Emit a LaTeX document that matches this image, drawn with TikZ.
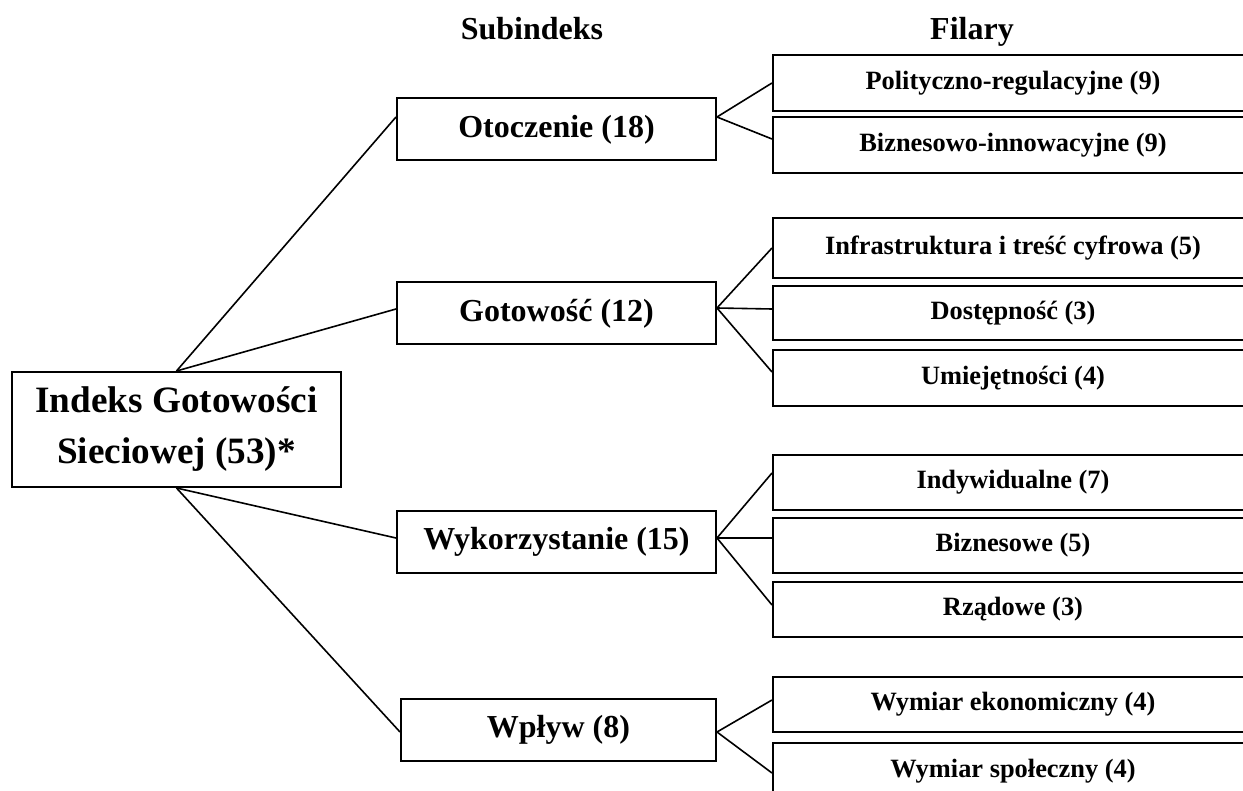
\documentclass[tikz,border=0pt]{standalone}
\usepackage{fontspec}
\setmainfont{Liberation Serif}
\usetikzlibrary{calc}
\begin{document}
\begin{tikzpicture}[x=0.5pt,y=-0.5pt,
  box/.style={draw,line width=1pt,inner sep=0pt,align=center,font=\bfseries},
  rootbox/.style={box,minimum width=164.5pt,minimum height=57.5pt,
    font=\bfseries\fontsize{18.6}{25.5}\selectfont},
  subbox/.style={box,minimum width=159.5pt,minimum height=31pt,
    font=\bfseries\fontsize{16}{19}\selectfont},
  pillar/.style={box,minimum width=240pt,minimum height=28pt,
    font=\bfseries\fontsize{13.2}{16}\selectfont},
  head/.style={anchor=base,font=\bfseries\fontsize{16}{19}\selectfont},
  link/.style={line width=0.8pt}]
\useasboundingbox (0,0) rectangle (1243,791);
\clip (0,0) rectangle (1243,791);

% column headings
\node[head] (hsub) at (532,40) {Subindeks};
\node[head] (hpil) at (972,40) {Filary};

% index
\node[rootbox] (root) at (176.5,429.5) {Indeks Gotowości\\Sieciowej (53)*};

% sub-indices
\node[subbox] (ot) at (556.5,129.5) {Otoczenie (18)};
\node[subbox] (go) at (556.5,313.5) {Gotowość (12)};
\node[subbox] (wy) at (556.5,542) {Wykorzystanie (15)};
\node[subbox,minimum width=157.5pt] (wp) at (558.5,730) {Wpływ (8)};

% pillars
\node[pillar] (p1) at (1013,83) {Polityczno-regulacyjne (9)};
\node[pillar] (p2) at (1013,145) {Biznesowo-innowacyjne (9)};
\node[pillar,minimum height=30pt] (p3) at (1013,248) {Infrastruktura i treść cyfrowa (5)};
\node[pillar,minimum height=27pt] (p4) at (1013,313) {Dostępność (3)};
\node[pillar] (p5) at (1013,378) {Umiejętności (4)};
\node[pillar,minimum height=27.5pt] (p6) at (1013,482.5) {Indywidualne (7)};
\node[pillar,minimum height=27.5pt] (p7) at (1013,545.5) {Biznesowe (5)};
\node[pillar,minimum height=27.5pt] (p8) at (1013,609.5) {Rządowe (3)};
\node[pillar,minimum height=27.5pt] (p9) at (1013,704.5) {Wymiar ekonomiczny (4)};
\node[pillar] (p10) at (1013,771) {Wymiar społeczny (4)};

% index to sub-indices
\draw[link] (root.north) -- ($(ot.west)+(0,-12.5)$);
\draw[link] (root.north) -- ($(go.west)+(0,-4.5)$);
\draw[link] (root.south) -- ($(wy.west)+(0,-4)$);
\draw[link] (root.south) -- ($(wp.west)+(0,2)$);

% sub-indices to pillars
\coordinate (otR) at ($(ot.east)+(0,-12.5)$);
\draw[link] (p1.west) -- (otR) -- ($(p2.west)+(0,-6)$);

\coordinate (goR) at ($(go.east)+(0,-5.5)$);
\draw[link] (p3.west) -- (goR) -- ($(p5.west)+(0,-6)$);
\draw[link] (goR) -- ($(p4.west)+(0,-4)$);

\coordinate (wyR) at ($(wy.east)+(0,-4)$);
\draw[link] ($(p6.west)+(0,-9.5)$) -- (wyR) -- ($(p8.west)+(0,-4.5)$);
\draw[link] (wyR) -- ($(p7.west)+(0,-7.5)$);

\coordinate (wpR) at ($(wp.east)+(0,2)$);
\draw[link] ($(p9.west)+(0,-4.5)$) -- (wpR) -- ($(p10.west)+(0,2)$);
\end{tikzpicture}
\end{document}
